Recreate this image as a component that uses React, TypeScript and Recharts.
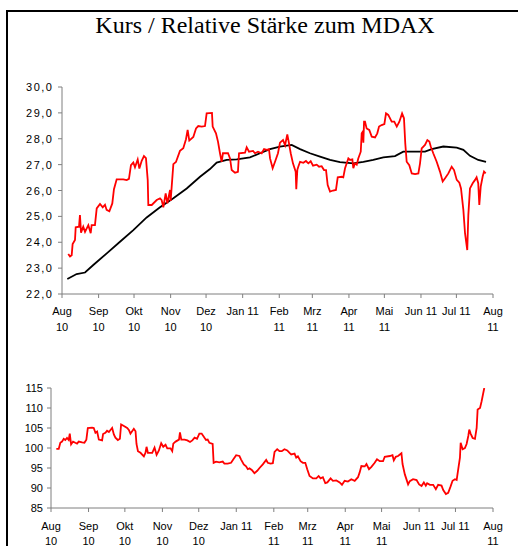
import React from 'react';
import { LineChart, Line, XAxis, YAxis } from 'recharts';

const FONT = "'Liberation Sans', Arial, sans-serif";
const AXIS_COLOR = '#7f7f7f';

const title = 'Kurs / Relative Stärke zum MDAX';

// x = days since 1 Aug 2010
const monthTicks = [0, 31, 61, 92, 122, 153, 184, 212, 243, 273, 304, 334, 365];
const monthLabels: string[][] = [
  ['Aug', '10'], ['Sep', '10'], ['Okt', '10'], ['Nov', '10'], ['Dez', '10'], ['Jan 11'],
  ['Feb', '11'], ['Mrz', '11'], ['Apr', '11'], ['Mai', '11'], ['Jun 11'], ['Jul 11'], ['Aug', '11'],
];

const kursTicks = [22, 23, 24, 25, 26, 27, 28, 29, 30];
const rsTicks = [85, 90, 95, 100, 105, 110, 115];

const kursPoints: [number, number][] = [
  [5.3,23.55],[6.8,23.45],[8.2,23.5],[9.0,23.93],[11,24.09],[11.6,24.58],[14.4,24.6],[15.2,25.05],[16.1,24.37],[18,24.6],
  [19.5,24.4],[22.3,24.66],[24.3,24.35],[25.1,24.66],[27.9,24.66],[29.4,25.31],[32.2,25.48],[34.5,25.35],[36.4,25.45],[37.8,25.25],
  [40.1,25.2],[42.6,25.5],[44,26.05],[46.3,26.43],[49.1,26.43],[51.9,26.43],[54.8,26.4],[56.7,26.45],[58.4,26.98],[60.4,27.08],
  [61.8,26.9],[64.1,27.2],[65.5,26.85],[67.5,27.15],[69.4,27.33],[71.1,27.25],[72.6,26.4],[73.1,25.44],[76,25.44],[80.2,25.63],
  [83,25.7],[84.4,25.63],[85.8,25.35],[87.8,25.89],[89.2,25.5],[91.5,26.02],[92,25.6],[94.3,27.02],[96.5,27.1],[99.9,27.53],
  [102.7,27.63],[105,27.98],[106.4,28.34],[107.8,27.93],[111.2,28.07],[113.5,28.4],[115.4,28.49],[118.3,28.47],[121.1,28.49],[122.5,28.98],
  [127,29.0],[127.6,28.47],[130.4,28.21],[132.1,27.89],[133.8,27.44],[135.2,27.11],[136.3,27.44],[140.6,27.44],[142.3,27.24],[143.7,26.79],
  [146.5,26.69],[149,26.72],[149.9,27.44],[155,27.46],[156.4,27.67],[158.4,27.5],[161.8,27.53],[163.4,27.44],[166,27.5],[169.1,27.44],
  [171.1,27.6],[173.4,27.57],[175.3,27.6],[176.2,27.24],[178.4,26.86],[180.4,27.11],[182.9,27.44],[184.6,27.85],[187.2,27.95],[188.9,27.75],
  [190.8,28.17],[192.2,27.83],[193.7,27.44],[195.6,27.05],[197.9,26.73],[198.4,26.05],[199.3,26.8],[200.1,26.92],[201.6,27.11],[204.4,27.07],
  [206.6,27.14],[208.6,27.05],[210.6,27.13],[212.6,26.96],[215.7,27.0],[217.7,26.92],[219.9,26.94],[221.9,26.79],[223.6,26.79],[225,26.21],
  [227,25.96],[229.5,26.0],[232,26.02],[233.5,26.51],[236.9,26.53],[238.2,26.51],[239.7,26.86],[242.5,27.24],[243.9,27.18],[245.9,27.2],
  [246.7,26.86],[248.1,27.05],[249.6,27.0],[250.9,27.24],[253,27.5],[253.8,28.21],[254.7,28.27],[255.2,27.85],[255.8,28.66],[256.6,28.66],
  [258,28.4],[260.2,28.34],[262.3,28.08],[265.1,28.05],[267,28.21],[268.5,28.47],[270.7,28.53],[273,28.57],[274.4,28.98],[276.3,28.92],
  [279.2,28.66],[281.4,28.66],[283.5,28.47],[285.7,28.66],[288,28.98],[289.6,28.79],[290.7,27.82],[291.9,27.11],[294.1,26.98],[296.2,26.66],
  [299,26.63],[301.8,26.66],[303.2,27.05],[304.6,27.63],[307.4,27.76],[309.4,27.95],[311.1,27.89],[312.3,27.7],[314.4,27.44],[317.3,27.11],
  [320.1,26.73],[322.4,26.35],[324.4,26.47],[327.2,26.66],[330,26.92],[332,26.79],[334.3,26.41],[336.5,26.3],[337.9,26.08],[339.9,25.25],
  [341.3,24.35],[343.2,23.7],[344.1,25.05],[345.5,26.08],[347.8,26.28],[349.8,26.41],[351.1,26.51],[352.5,26.28],[353.4,25.44],[354.6,26.15],
  [356.3,26.55],[357.4,26.73],[358.8,26.66],
];

const gdPoints: [number, number][] = [
  [4.5,22.58],[12.4,22.77],[19.5,22.83],[26.5,23.12],[37.9,23.57],[49.1,24.02],[60.4,24.47],[71.7,24.96],[83,25.35],[94.3,25.7],
  [105.6,26.08],[116.9,26.53],[125.3,26.83],[131,27.08],[139.5,27.18],[148,27.2],[159.2,27.28],[167.7,27.44],[176.2,27.6],[184.6,27.7],
  [194.5,27.76],[201.6,27.6],[210,27.44],[218.5,27.31],[227,27.18],[235.4,27.1],[246.7,27.05],[255.2,27.11],[263.6,27.18],[272.1,27.28],
  [282,27.33],[289,27.5],[297.5,27.5],[307.4,27.5],[313.1,27.6],[322.9,27.7],[334.3,27.66],[339.9,27.57],[345.5,27.34],[352.5,27.18],
  [359.1,27.11],
];

const rsPoints: [number, number][] = [
  [4.4,99.8],[6.4,99.8],[7.7,101.3],[9.1,101.6],[10.5,102.3],[11.8,102.0],[13.2,102.5],[14.6,102.0],[15.5,103.6],[16.6,100.9],
  [18.2,101.6],[20.1,101.3],[21.5,101.1],[22.9,101.6],[25.7,101.4],[27.6,101.3],[29.2,102.1],[30.4,105.0],[33.9,105.1],[35.3,105.0],
  [36.7,103.8],[38.1,104.1],[39.5,102.1],[42.2,101.9],[43,103.5],[44.9,103.8],[46.3,104.3],[47.8,104.0],[49.1,104.5],[50.5,105.0],
  [51.9,103.4],[53.2,102.6],[55.2,102.0],[56.9,102.3],[57.9,105.9],[60.2,105.5],[62.9,105.0],[64.3,104.5],[65.6,103.6],[67,104.2],
  [68.4,104.8],[69.8,104.2],[70.6,101.0],[71.8,99.2],[73.9,98.8],[76.7,97.9],[78,98.8],[78.9,100.3],[80,98.8],[83.6,98.8],
  [85.5,100.1],[87.2,98.3],[89.1,99.4],[91,101.2],[92.7,100.3],[94.6,100.8],[96,99.9],[98.7,99.9],[100.1,99.2],[101,101.1],
  [102.9,101.6],[105.7,102.1],[106.5,103.9],[107.6,102.1],[110.3,102.1],[112.6,101.9],[114.8,101.5],[116.7,101.9],[118.6,102.6],[120.6,102.3],
  [122.5,103.6],[124.4,103.6],[126.6,102.6],[128,102.0],[129.4,102.1],[130.8,101.3],[133.5,101.0],[134.3,96.3],[136.3,96.6],[139,96.4],
  [141.8,96.6],[143.2,96.1],[145.9,96.1],[148.7,96.3],[150.9,97.3],[152.9,98.2],[155.6,98.0],[157,97.1],[159.2,95.9],[161.1,95.4],
  [162.5,94.7],[163.9,94.9],[165.8,94.5],[168,93.7],[170.3,94.3],[172.2,95.0],[174.9,95.9],[177.7,97.0],[179,96.3],[181.3,96.1],
  [183.2,96.2],[184.6,99.0],[186.8,99.7],[188.7,99.2],[190.6,99.2],[192.8,99.7],[195.1,99.4],[197,98.8],[198.4,98.4],[201.1,98.6],
  [202.5,97.6],[203.9,97.9],[206.1,96.7],[208,96.3],[210,96.3],[211.6,94.7],[213.5,93.0],[216.3,92.4],[219.1,92.4],[221,93.0],
  [222.6,92.4],[224.5,92.7],[226.5,91.2],[228.2,91.4],[230.9,92.4],[232.8,91.8],[235.6,91.9],[238.4,91.4],[240.3,90.8],[242.5,91.8],
  [245.2,91.6],[248,92.2],[250.8,91.8],[253.5,92.7],[254.9,93.9],[256.3,95.5],[259.1,95.4],[260.5,96.0],[262.6,94.7],[264.6,95.3],
  [267.3,96.3],[269.2,97.2],[271.5,96.7],[274.2,96.7],[275.6,97.8],[279.8,98.0],[282,98.2],[283.1,96.9],[284.7,97.8],[286.6,98.0],
  [289.4,98.7],[290.3,96.0],[292.2,93.4],[294.9,90.9],[296.3,91.7],[299,92.2],[301.9,92.0],[304,90.9],[306,90.5],[307.9,91.4],
  [309.5,90.6],[310.6,91.2],[312.9,90.8],[315.6,90.8],[317.8,89.7],[319.7,90.8],[322.5,90.6],[323.9,89.5],[326.1,88.5],[328,88.8],
  [330,90.4],[331.6,91.8],[333.6,92.2],[335,92.0],[336.3,94.7],[337.7,97.6],[338.3,101.3],[339.9,99.7],[341.8,100.0],[343.2,101.0],
  [344.6,103.0],[345.4,104.6],[346.5,103.6],[348.2,102.5],[350.1,102.3],[351.5,105.0],[352.3,109.6],[354.3,110.0],[355.6,111.7],[357,113.8],
  [357.8,115.0],
];

const toData = (pts: [number, number][]) => pts.map(([d, v]) => ({ d, v }));
const kursData = toData(kursPoints);
const gdData = toData(gdPoints);
const rsData = toData(rsPoints);

const makeXTick = (off1: number, off2: number) => (props: any) => {
  const { x, y, payload } = props;
  const idx = monthTicks.indexOf(payload.value);
  const lines = idx >= 0 ? monthLabels[idx] : [];
  return (
    <g>
      {lines.map((t, i) => (
        <text key={i} x={x} y={y + (i === 0 ? off1 : off2)} textAnchor="middle" fill="#000"
          fontSize={11} fontFamily={FONT}>{t}</text>
      ))}
    </g>
  );
};

const makeYTick = (fmt: (v: number) => string, spacing: number) => (props: any) => {
  const { x, y, payload } = props;
  return (
    <text x={x} y={y + 4} textAnchor="end" fill="#000" fontSize={11} fontFamily={FONT}
      letterSpacing={spacing}>{fmt(payload.value)}</text>
  );
};

const fmtKurs = (v: number) => v.toFixed(1).replace('.', ',');
const fmtRs = (v: number) => String(v);

export default function App() {
  return (
    <div style={{ position: 'fixed', left: 0, top: 0, width: 518, height: 546, overflow: 'hidden', background: '#fff' }}>
      <svg width={518} height={546} style={{ position: 'absolute', left: 0, top: 0 }}>
        <rect x={7} y={11} width={600} height={600} fill="none" stroke="#000" strokeWidth={2} />
        <text x={265} y={33} textAnchor="middle" fontSize={24} fontFamily="'Liberation Serif', 'Times New Roman', serif" fill="#000">{title}</text>
      </svg>

      <div style={{ position: 'absolute', left: 0, top: 0 }}>
        <LineChart width={518} height={340} margin={{ top: 87, right: 25, bottom: 0, left: 0 }}>
          <XAxis type="number" dataKey="d" domain={[0, 365]} ticks={monthTicks} interval={0}
            height={46} tickSize={4} tickMargin={2} stroke={AXIS_COLOR}
            tick={makeXTick(15, 31)} allowDataOverflow />
          <YAxis type="number" dataKey="v" domain={[22, 30]} ticks={kursTicks} interval={0}
            width={62} tickSize={4} tickMargin={4.5} stroke={AXIS_COLOR}
            tick={makeYTick(fmtKurs, 1.5)} allowDataOverflow />
          <Line data={gdData} dataKey="v" type="linear" stroke="#000" strokeWidth={1.8} dot={false} isAnimationActive={false} />
          <Line data={kursData} dataKey="v" type="linear" stroke="#ff0000" strokeWidth={1.8} dot={false} isAnimationActive={false} />
        </LineChart>
      </div>

      <div style={{ position: 'absolute', left: 0, top: 370 }}>
        <LineChart width={518} height={190} margin={{ top: 18, right: 25, bottom: 0, left: 0 }}>
          <XAxis type="number" dataKey="d" domain={[0, 365]} ticks={monthTicks} interval={0}
            height={52} tickSize={4} tickMargin={2} stroke={AXIS_COLOR}
            tick={makeXTick(16, 30.5)} allowDataOverflow />
          <YAxis type="number" dataKey="v" domain={[85, 115]} ticks={rsTicks} interval={0}
            width={51} tickSize={4} tickMargin={4} stroke={AXIS_COLOR}
            tick={makeYTick(fmtRs, 0)} allowDataOverflow />
          <Line data={rsData} dataKey="v" type="linear" stroke="#ff0000" strokeWidth={1.8} dot={false} isAnimationActive={false} />
        </LineChart>
      </div>
    </div>
  );
}
